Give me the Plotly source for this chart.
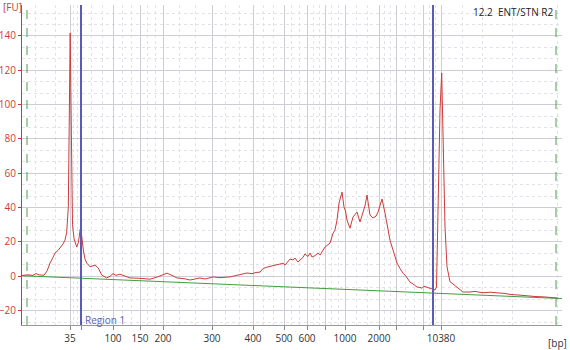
import plotly.graph_objects as go

# ---- data (migration time in s, fluorescence in FU) ----
ladder_bp = [35, 50, 100, 150, 200, 300, 400, 500, 600, 700, 1000, 2000, 3000, 7000, 10380]
ladder_time = [29.6, 31.8, 38.2, 43.6, 48.2, 58.0, 66.2, 72.4, 77.0, 80.6, 84.6, 91.4, 94.8, 100.2, 103.8]
labelled_bp = [35, 100, 150, 200, 300, 400, 500, 600, 1000, 2000, 10380]

px_pts = [22, 28, 33, 36, 39, 44, 47, 50, 53, 55, 58, 60, 63, 65, 66.7, 68.3, 69.2, 69.8, 70.2, 70.8,
          71.5, 72.5, 74, 76.7, 78.5, 80.2, 81, 82, 83.3, 85, 86.7, 90, 93, 95, 98.3, 101.7, 106.7, 110,
          113, 116, 120, 124, 130, 140, 150, 157, 163, 167, 172, 177, 185, 190, 200, 205, 213, 220, 230,
          240, 247, 252, 256, 260, 263, 267, 272, 276, 280, 283, 285, 287, 290, 293, 295, 298, 300, 303,
          305, 308, 310, 312, 315, 318, 320, 325, 330, 333, 335, 337, 339, 342, 344, 345.5, 347, 350, 353,
          357, 360, 363, 365, 367, 368.5, 370, 373, 376, 378, 382, 385, 388, 390, 393, 395, 397, 400, 403,
          406, 410, 413, 415, 417, 420, 422, 424, 427, 430, 432, 435, 436.5, 438, 440, 441.7, 443, 445, 447,
          450, 453, 457, 460, 463, 470, 475, 480, 485, 490, 497, 500, 505, 510, 520, 527, 535, 543, 550, 558]
time_s = [round((p - 22) / 5 + 20, 2) for p in px_pts]
fu = [0.5, 0.8, 0.5, 1.6, 0.8, 0.6, 3, 7.7, 11, 13.5, 15, 16.4, 18.8, 21, 25.7, 40, 100, 140, 141.7, 110,
      60, 30, 22, 17, 20, 27.5, 27, 20, 15.3, 10, 7.7, 5.5, 6.2, 6.5, 4.8, 0.7, -1, 0,
      1.5, 0.5, 1.2, 0.3, -1, -1.2, -1.7, -0.5, 1.0, 1.8, 0.5, -1, -1.5, -2.2, -1, -1.6, -0.4, -0.8, -0.4,
      0.8, 1.9, 1.5, 2.2, 2.4, 4.5, 5.3, 5.8, 6.6, 7.1, 7.6, 6.5, 7.7, 10, 9.5, 10.6, 8.3, 9.4, 11,
      13, 11.5, 13.5, 11.2, 12, 13.5, 12.3, 17, 19.3, 25, 27, 32.7, 42.6, 49, 40.3, 38, 32.7, 28, 34.5,
      37.4, 31.6, 36.8, 41, 47.3, 40, 35.6, 33.9, 35, 37.4, 45, 36.8, 27, 21, 15.3, 11, 7.7, 4.5, 1.8,
      0, -3.4, -4.5, -5.2, -6.3, -6.5, -7, -5.8, -6.3, -7, -7.5, -8, -6.3, 48, 96.8, 118.4, 87, 28.8, 5.5,
      -3.2, -4.5, -6.3, -7.5, -9.2, -9.2, -8.8, -9.4, -9.6, -9.3, -9.4, -9.8, -10, -10.6, -11, -11.5,
      -11.8, -12, -12.3, -12.7]

baseline_time = [20, 128]
baseline_fu = [0.3, -13]
region_time = [31.8, 102.2]
marker_time = [21.0, 126.8]

x_range = [20, 128]
y_range = [-28.4, 158]

fig = go.Figure()
fig.add_trace(go.Scatter(x=baseline_time, y=baseline_fu, mode="lines",
                         line=dict(color="#3f9f3f", width=1), hoverinfo="skip"))
fig.add_trace(go.Scatter(x=time_s, y=fu, mode="lines",
                         line=dict(color="#cc3b3b", width=1)))

for t in region_time:
    fig.add_shape(type="line", x0=t, x1=t, xref="x", y0=0, y1=1, yref="paper",
                  line=dict(color="#5a5ab8", width=2))
for t in marker_time:
    fig.add_shape(type="line", x0=t, x1=t, xref="x", y0=0, y1=1, yref="paper",
                  line=dict(color="#4a9e4a", width=1, dash="dash"))

# minor (dotted) vertical grid positions: thirds between ladder steps
minor_x = []
for a, b in zip(ladder_time[:-1], ladder_time[1:]):
    minor_x += [a + (b - a) / 3, a + 2 * (b - a) / 3]
minor_x += [22.6, 26.6, 108, 112, 118, 127]

ticktext = [str(b) if b in labelled_bp else "" for b in ladder_bp]

fig.update_layout(
    width=570, height=350,
    margin=dict(l=22, r=8, t=5, b=25, autoexpand=False),
    paper_bgcolor="white", plot_bgcolor="white",
    showlegend=False,
    font=dict(family="Open Sans", size=10, color="#333333"),
    xaxis=dict(range=x_range, tickmode="array", tickvals=ladder_time, ticktext=ticktext,
               automargin=False,
               showgrid=True, gridcolor="#cdcdd6", gridwidth=1,
               ticks="outside", ticklen=4, tickcolor="#888888",
               showline=True, linecolor="#999999", linewidth=1, zeroline=False,
               tickfont=dict(color="#333333", size=10),
               minor=dict(tickmode="array", tickvals=minor_x, showgrid=True,
                          gridcolor="#e2e2e8", griddash="dot", gridwidth=1, ticks="")),
    yaxis=dict(range=y_range, tick0=0, dtick=20, showgrid=True, gridcolor="#cdcdd6",
               automargin=False,
               ticks="outside", ticklen=3, tickcolor="#cc3b3b",
               showline=True, linecolor="#cc3b3b", linewidth=1, zeroline=False,
               tickfont=dict(color="#cc3b3b", size=10),
               minor=dict(dtick=20 / 3, tick0=0, showgrid=True, gridcolor="#e2e2e8",
                          griddash="dot", gridwidth=1)),
)

fig.add_annotation(text="[FU]", xref="paper", yref="paper", x=-0.038, y=(325 - 7) / 320,
                   xanchor="left", yanchor="middle", showarrow=False,
                   font=dict(color="#cc3b3b", size=10))
fig.add_annotation(text="[bp]", xref="paper", yref="paper", x=(557 - 22) / 540, y=-0.028,
                   xanchor="center", yanchor="top", showarrow=False,
                   font=dict(color="#333333", size=10))
fig.add_annotation(text="12.2  ENT/STN R2", xref="paper", yref="paper", x=(556 - 22) / 540,
                   y=(325 - 12) / 320, xanchor="right", yanchor="middle", showarrow=False,
                   font=dict(color="#222222", size=10))
fig.add_annotation(text="Region 1", xref="x", yref="y", x=region_time[0], y=-25.5,
                   xanchor="left", yanchor="middle", xshift=2, showarrow=False,
                   font=dict(color="#6060b0", size=10))

fig.write_html("out.html")
